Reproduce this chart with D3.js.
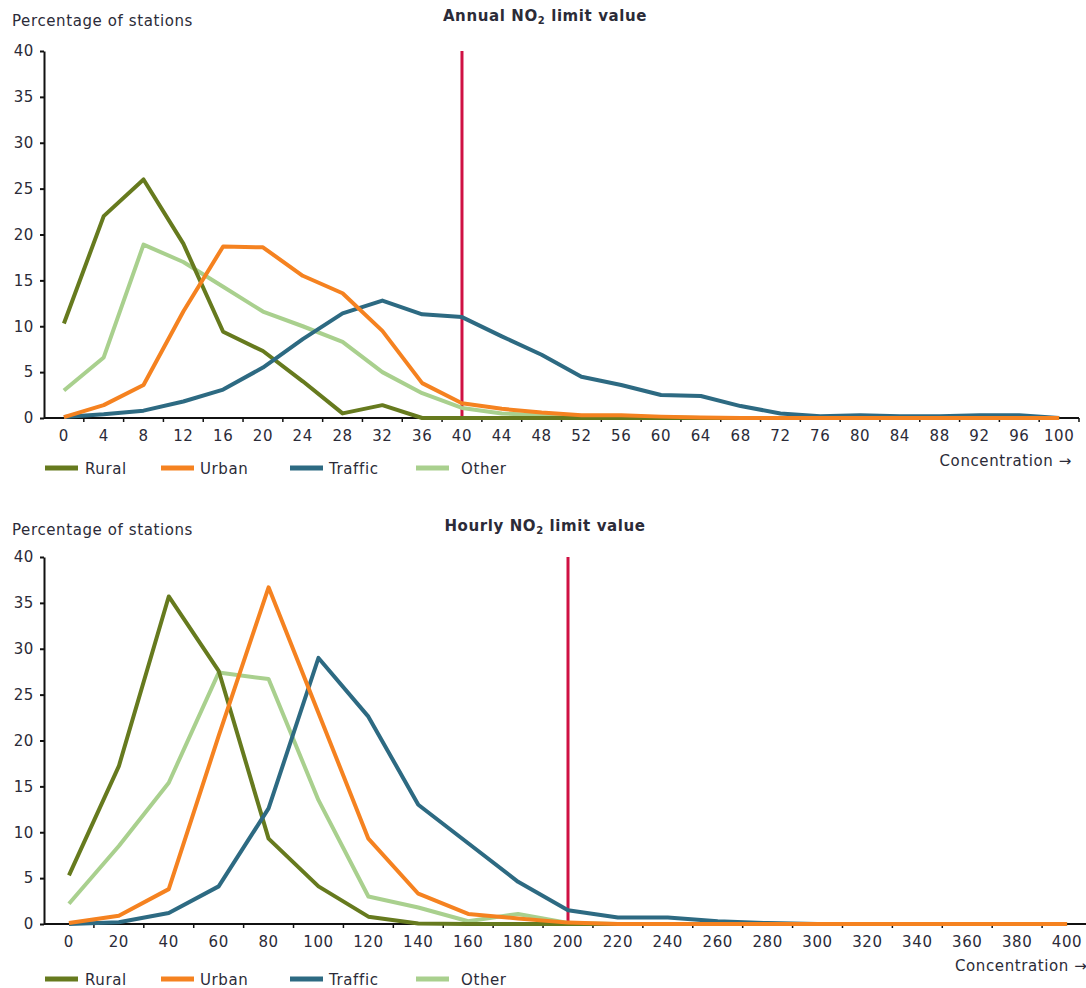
<!DOCTYPE html>
<html>
<head>
<meta charset="utf-8">
<script src="https://cdn.jsdelivr.net/npm/d3@7"></script>
<style>
  html, body { margin: 0; padding: 0; background: #fff; }
  svg { display: block; }
  text { font-family: Verdana, "DejaVu Sans", sans-serif; fill: #2b2b38; }
</style>
</head>
<body>
<svg id="chart" width="1086" height="988"></svg>
<script>
// Concentration classes (µg/m3) and percentage of stations per class
const annualBins = [0, 4, 8, 12, 16, 20, 24, 28, 32, 36, 40, 44, 48, 52, 56, 60, 64, 68, 72, 76, 80, 84, 88, 92, 96, 100];
const annualRural   = [10.3, 22.0, 26.0, 19.0, 9.4, 7.3, 4.0, 0.5, 1.4, 0, 0, 0, 0, 0, 0, 0, 0, 0, 0, 0, 0, 0, 0, 0, 0, 0];
const annualUrban   = [0.1, 1.4, 3.6, 11.6, 18.7, 18.6, 15.5, 13.6, 9.5, 3.8, 1.6, 1.0, 0.6, 0.3, 0.3, 0.15, 0.05, 0, 0, 0, 0, 0, 0, 0, 0, 0];
const annualTraffic = [0.1, 0.4, 0.8, 1.8, 3.1, 5.5, 8.6, 11.4, 12.8, 11.3, 11.0, 8.9, 6.9, 4.5, 3.6, 2.5, 2.4, 1.3, 0.5, 0.2, 0.3, 0.2, 0.2, 0.3, 0.3, 0];
const annualOther   = [3.0, 6.6, 18.9, 17.0, 14.3, 11.6, 10.0, 8.3, 5.0, 2.7, 1.1, 0.5, 0.3, 0.2, 0.1, 0.1, 0, 0, 0, 0, 0, 0, 0, 0, 0, 0];
const annualLimit = 40;

const hourlyBins = [0, 20, 40, 60, 80, 100, 120, 140, 160, 180, 200, 220, 240, 260, 280, 300, 320, 340, 360, 380, 400];
const hourlyRural   = [5.3, 17.2, 35.7, 27.6, 9.3, 4.1, 0.8, 0.05, 0, 0, 0, 0, 0, 0, 0, 0, 0, 0, 0, 0, 0];
const hourlyUrban   = [0.1, 0.9, 3.8, 20.5, 36.7, 23.0, 9.3, 3.3, 1.1, 0.6, 0.15, 0, 0, 0, 0, 0, 0, 0, 0, 0, 0];
const hourlyTraffic = [0, 0.2, 1.2, 4.1, 12.6, 29.0, 22.6, 13.0, 8.8, 4.6, 1.5, 0.7, 0.7, 0.3, 0.1, 0, 0, 0, 0, 0, 0];
const hourlyOther   = [2.2, 8.5, 15.4, 27.4, 26.7, 13.5, 3.0, 1.8, 0.3, 1.1, 0.1, 0, 0, 0, 0, 0, 0, 0, 0, 0, 0];
const hourlyLimit = 200;

const yTicks = [0, 5, 10, 15, 20, 25, 30, 35, 40];
const seriesNames = ["Rural", "Urban", "Traffic", "Other"];
const seriesColors = { Rural: "#667a1e", Urban: "#f58220", Traffic: "#2d6a82", Other: "#a9d08e" };
// drawing order: light series first, urban on top
const drawOrder = ["Other", "Rural", "Traffic", "Urban"];

const svg = d3.select("#chart");

const panels = [
  {
    title: "Annual NO", bins: annualBins, limit: annualLimit,
    values: { Rural: annualRural, Urban: annualUrban, Traffic: annualTraffic, Other: annualOther },
    top: 51, bottom: 418, left: 44, right: 1079,
    titleY: 21, yLabelY: 26, xLabelY: 441, legendY: 468,
    concX: 1072, concY: 466, concAnchor: "end"
  },
  {
    title: "Hourly NO", bins: hourlyBins, limit: hourlyLimit,
    values: { Rural: hourlyRural, Urban: hourlyUrban, Traffic: hourlyTraffic, Other: hourlyOther },
    top: 557, bottom: 924, left: 44, right: 1092,
    titleY: 531, yLabelY: 535, xLabelY: 947, legendY: 979,
    concX: 955, concY: 971, concAnchor: "start"
  }
];

const FS = 15;
const LS = 0.6;

panels.forEach(p => {
  const g = svg.append("g");

  const x = d3.scaleBand().domain(p.bins).range([p.left, p.right]).paddingInner(0).paddingOuter(0);
  const cx = d => x(d) + x.bandwidth() / 2;
  const y = d3.scaleLinear().domain([0, 40]).range([p.bottom, p.top]);

  // y axis
  const yAxis = d3.axisLeft(y).tickValues(yTicks).tickSize(4).tickSizeOuter(0).tickPadding(6);
  const ya = g.append("g").attr("transform", `translate(${p.left},0)`).call(yAxis);
  ya.select(".domain").attr("stroke", "#111").attr("stroke-width", 2);
  ya.selectAll(".tick line").attr("stroke", "#111").attr("stroke-width", 2);
  ya.selectAll(".tick text").attr("font-size", FS).attr("letter-spacing", LS)
    .attr("font-family", 'Verdana, "DejaVu Sans", sans-serif').attr("fill", "#2b2b38");

  // y axis caption
  g.append("text").attr("x", 12).attr("y", p.yLabelY)
    .attr("font-size", FS).attr("letter-spacing", LS).text("Percentage of stations");

  // panel title with subscript
  const t = g.append("text").attr("x", 545).attr("y", p.titleY).attr("text-anchor", "middle")
    .attr("font-size", FS).attr("font-weight", "bold").attr("letter-spacing", LS);
  t.append("tspan").text(p.title);
  t.append("tspan").attr("font-size", 10).attr("dy", 3).text("2");
  t.append("tspan").attr("dy", -3).text(" limit value");

  // x axis line with ticks at class boundaries
  g.append("line").attr("x1", p.left).attr("x2", p.right).attr("y1", p.bottom).attr("y2", p.bottom)
    .attr("stroke", "#111").attr("stroke-width", 2);
  const bounds = p.bins.map(b => x(b)).concat([x(p.bins[p.bins.length - 1]) + x.bandwidth()]);
  g.selectAll(".xtick").data(bounds.slice(1)).join("line")
    .attr("class", "xtick")
    .attr("x1", d => d).attr("x2", d => d)
    .attr("y1", p.bottom).attr("y2", p.bottom + 4)
    .attr("stroke", "#111").attr("stroke-width", 1.5);
  g.selectAll(".xlabel").data(p.bins).join("text")
    .attr("class", "xlabel")
    .attr("x", d => cx(d)).attr("y", p.xLabelY)
    .attr("text-anchor", "middle").attr("font-size", FS).attr("letter-spacing", LS)
    .text(d => d);

  // limit value marker
  g.append("line").attr("x1", cx(p.limit)).attr("x2", cx(p.limit))
    .attr("y1", y(40)).attr("y2", y(0))
    .attr("stroke", "#cf1143").attr("stroke-width", 3);

  // series lines
  const line = d3.line().x((d, i) => cx(p.bins[i])).y(d => y(d));
  drawOrder.forEach(name => {
    g.append("path").datum(p.values[name])
      .attr("d", line)
      .attr("fill", "none")
      .attr("stroke", seriesColors[name])
      .attr("stroke-width", 4)
      .attr("stroke-linejoin", "round");
  });

  // legend
  const legendX = [45, 161, 290, 416];
  const legendTextX = [85, 200, 329, 461];
  seriesNames.forEach((name, i) => {
    g.append("line").attr("x1", legendX[i]).attr("x2", legendX[i] + 33)
      .attr("y1", p.legendY).attr("y2", p.legendY)
      .attr("stroke", seriesColors[name]).attr("stroke-width", 5);
    g.append("text").attr("x", legendTextX[i]).attr("y", p.legendY + 6)
      .attr("font-size", FS).attr("letter-spacing", LS).text(name);
  });

  // x axis caption
  g.append("text").attr("x", p.concX).attr("y", p.concY).attr("text-anchor", p.concAnchor)
    .attr("font-size", FS).attr("letter-spacing", LS).text("Concentration \u2192");
});
</script>
</body>
</html>
